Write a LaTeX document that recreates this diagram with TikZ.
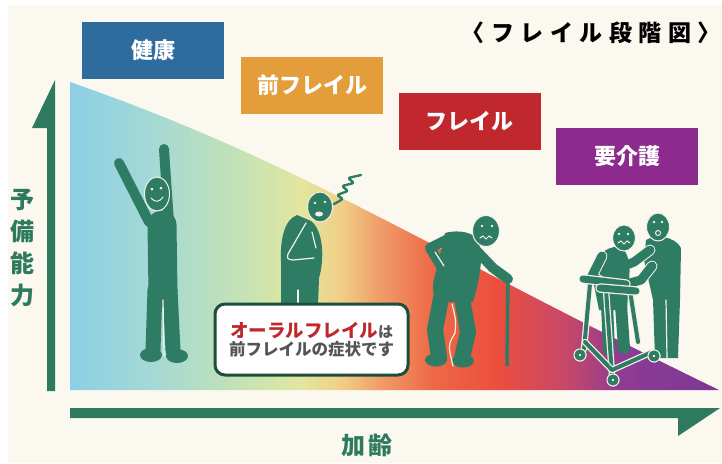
\documentclass[tikz,border=0pt]{standalone}
\usepackage{fontspec}
\newfontfamily\jp{Noto Sans CJK JP}

\definecolor{paper}{HTML}{FBF8F0}
\definecolor{cTeal}{HTML}{2E7A5F}
\definecolor{cFig}{HTML}{2F7C64}
\definecolor{cLine}{HTML}{F4F1E6}
\definecolor{cBlue}{HTML}{2F6C9E}
\definecolor{cOrange}{HTML}{E39E3B}
\definecolor{cRed}{HTML}{C0282E}
\definecolor{cPurple}{HTML}{8C2B8D}
\definecolor{cDark}{HTML}{1E4D3A}
\definecolor{cGray}{HTML}{555555}
% colour stops of the ageing band, left to right
\definecolor{s0}{HTML}{8DCFE6}
\definecolor{s1}{HTML}{A3D8D6}
\definecolor{s2}{HTML}{C3E2B6}
\definecolor{s3}{HTML}{E2E69F}
\definecolor{s4}{HTML}{F0CE86}
\definecolor{s5}{HTML}{F09A68}
\definecolor{s6}{HTML}{EE6846}
\definecolor{s7}{HTML}{EB4E3E}
\definecolor{s8}{HTML}{C94868}
\definecolor{s9}{HTML}{8F3B93}
\definecolor{s10}{HTML}{7A3896}
\pgfdeclarehorizontalshading{agegrad}{100bp}{color(0bp)=(s0); color(25bp)=(s0);
  color(31bp)=(s1); color(38bp)=(s2); color(42.7bp)=(s3); color(46bp)=(s4);
  color(49bp)=(s5); color(53bp)=(s6); color(58bp)=(s7); color(63bp)=(s8);
  color(67.5bp)=(s9); color(75bp)=(s10); color(100bp)=(s10)}

\newcommand\tgap{\hspace{6.5pt}}

\begin{document}
\begin{tikzpicture}[x=1pt,y=-1pt,
  stage/.style={minimum width=142pt, minimum height=57pt, inner sep=0pt, text=white,
    font=\jp\bfseries\fontsize{22}{26}\selectfont},
  axislabel/.style={text=cTeal, inner sep=0pt, font=\jp\bfseries\fontsize{24}{32}\selectfont},
  callout/.style={draw=cDark, line width=3pt, fill=white, rounded corners=10pt,
    minimum width=193pt, minimum height=71pt, inner sep=0pt, align=center, text=cGray},
  limb/.style={draw=cFig, line cap=round, line join=round},
  seam/.style={draw=cLine, line width=1.2pt, line cap=round, line join=round},
  headshape/.style={fill=cFig, draw=cLine, line width=1pt},
  face/.style={draw=cLine, line width=1pt, line cap=round},
  tube/.style={draw=cFig, line width=4pt, line cap=round, line join=round,
    preaction={draw=cLine, line width=6.5pt, line cap=round, line join=round}}]

\useasboundingbox (0,0) rectangle (722,463);
\fill[white] (0,0) rectangle (722,463);
\fill[paper] (8,5) rectangle (722,463);

% ageing band
\shade[shading=agegrad] (70,82) .. controls (300,162) and (420,245) .. (719,390)
  -- (70,390) -- cycle;

% axes
\fill[cTeal] (55,80) -- (55,391) -- (47,391) -- (47,128) -- (32,128) -- cycle;
\fill[cTeal] (70,408) -- (720,408) -- (678,436) -- (678,418) -- (70,418) -- cycle;

% stage labels
\node[stage, fill=cBlue]   (kenko)    at (153,50.5)  {健康};
\node[stage, fill=cOrange] (prefrail) at (312,85.5)  {前フレイル};
\node[stage, fill=cRed]    (frail)    at (469.5,121.5) {フレイル};
\node[stage, fill=cPurple] (care)     at (627,156)   {要介護};

% title
\node[inner sep=0pt, anchor=east, font=\jp\bfseries\fontsize{23}{27}\selectfont] (title) at (721,33)
  {〈\tgap フ\tgap レ\tgap イ\tgap ル\tgap 段\tgap 階\tgap 図\tgap 〉};

% axis labels
\node[axislabel, align=center] (reserve) at (22,248) {予\\備\\能\\力};
\node[axislabel] (age) at (367,445) {加\hspace{4pt}齢};

% ---- healthy person, arms raised ----
\draw[limb, line width=10pt] (119,163) -- (149,222);
\draw[limb, line width=10pt] (164,149) .. controls (166,180) .. (169,222);
\draw[limb, line width=29pt] (162,225) -- (163,292);
\draw[limb, line width=15pt] (155,290) -- (153,350);
\draw[limb, line width=15pt] (170,290) -- (173,350);
\fill[cFig] (151,355) ellipse (11 and 7);
\fill[cFig] (177,356) ellipse (11 and 7);
\draw[seam] (163,300) -- (164,356);
\draw[headshape] (157,194) ellipse (12.5 and 17);
\fill[cLine] (152,189) circle (1.5);
\fill[cLine] (161,188) circle (1.5);
\draw[face] (151,198) .. controls (155,203) and (160,202) .. (163,197);

% ---- pre-frail person, hunched ----
\fill[cFig] (297,215) .. controls (284,220) and (280,240) .. (281,262) -- (281,306)
  -- (318,306) -- (319,278) .. controls (325,258) and (323,230) .. (311,221) -- cycle;
\draw[seam] (306,223) -- (288,254) .. controls (287,259) .. (293,260) -- (314,258);
\draw[seam] (312,232) -- (316,248);
\draw[seam] (298,290) -- (298,306);
\draw[headshape] (320,207) ellipse (12.5 and 15);
\fill[cLine] (315,203) circle (1.4);
\fill[cLine] (325,202) circle (1.4);
\fill[cLine] (319,214) ellipse (4 and 2.5);
\draw[limb, line width=2.4pt, rounded corners=2pt] (334,204) -- (343,199) -- (337,195)
  -- (348,191) -- (342,186) -- (354,183) -- (348,178) -- (361,175);

% ---- frail person with a cane ----
\draw[cFig, line width=3.5pt] (508,279) -- (507,366);
\draw[limb, line width=16pt] (441,298) -- (435,330) -- (439,357);
\draw[limb, line width=16pt] (462,298) -- (468,332) -- (462,358);
\fill[cFig] (436,360) ellipse (11 and 6.5);
\fill[cFig] (463,361) ellipse (11 and 6.5);
\fill[cFig] (445,233) .. controls (460,229) and (473,233) .. (479,240) -- (481,262)
  .. controls (479,280) .. (473,302) -- (435,302) .. controls (432,285) .. (437,268) -- cycle;
\draw[seam] (452,304) .. controls (456,320) .. (455,333) .. controls (448,345) .. (453,366);
\draw[limb, line width=10pt] (474,248) -- (493,268) -- (508,279);
\draw[limb, line width=10pt] (450,238) -- (430,248) -- (441,266);
\draw[seam] (435,252) -- (444,266);
\draw[headshape] (486,231) ellipse (13.5 and 15.5);
\fill[cLine] (482,226) circle (1.4);
\fill[cLine] (492,226) circle (1.4);
\draw[face] (480,238) -- (483,236) -- (486,239) -- (489,236) -- (492,238);

% ---- caregiver ----
\fill[cFig] (646,240) .. controls (655,234) and (675,236) .. (681,248) -- (680,300)
  -- (678,358) -- (655,358) -- (653,300) .. controls (648,280) .. (644,260) -- cycle;
\draw[seam] (666,300) -- (667,358);
\draw[headshape] (658,227) ellipse (11.5 and 14);
\fill[cLine] (654,222) circle (1.3);
\fill[cLine] (662,222) circle (1.3);
\draw[face] (658,233) circle (2.5);
\draw[limb, line width=9pt, preaction={draw=cLine, line width=11pt, line cap=round}]
  (650,250) -- (634,262) -- (624,266);
\draw[limb, line width=9pt, preaction={draw=cLine, line width=11pt, line cap=round}]
  (652,266) -- (641,280) -- (630,283);

% ---- person using a walker ----
\draw[limb, line width=12pt] (607,305) -- (609,350);
\draw[limb, line width=12pt] (621,305) -- (624,348);
\fill[cFig] (614,247) .. controls (600,250) and (591,262) .. (592,275) -- (599,310)
  -- (627,310) -- (629,280) .. controls (631,262) and (627,250) .. (620,247) -- cycle;
\draw[limb, line width=9pt, preaction={draw=cLine, line width=11pt, line cap=round}]
  (602,256) -- (592,276) -- (601,282);
\draw[headshape] (624,238) ellipse (11.5 and 13);
\fill[cLine] (619,234) circle (1.3);
\fill[cLine] (628,234) circle (1.3);
\draw[face] (618,243) -- (621,241) -- (624,244) -- (627,241) -- (630,243);

% walker frame
\draw[tube] (590,284) -- (584,349);
\draw[tube] (606,290) -- (612,375);
\draw[tube] (630,291) -- (638,342);
\draw[tube] (585,342) -- (612,370) -- (652,352);
\draw[tube] (580,355) circle (3.5);
\draw[tube] (613,380) circle (3.5);
\draw[tube] (654,356) circle (3.5);
\draw[tube, line width=7pt, preaction={draw=cLine, line width=9.5pt, line cap=round}] (583,279) -- (626,284);
\draw[tube, line width=7pt, preaction={draw=cLine, line width=9.5pt, line cap=round}] (600,288) -- (636,291);

% note on oral frailty
\node[callout] (oral) at (311.5,339.5)
  {{\jp\bfseries\color{cRed}\fontsize{18.5}{22}\selectfont オーラルフレイル}%
   {\jp\bfseries\fontsize{15}{22}\selectfont は}\\[1pt]
   {\jp\bfseries\fontsize{16.5}{20}\selectfont 前フレイルの症状です}};

\end{tikzpicture}
\end{document}
